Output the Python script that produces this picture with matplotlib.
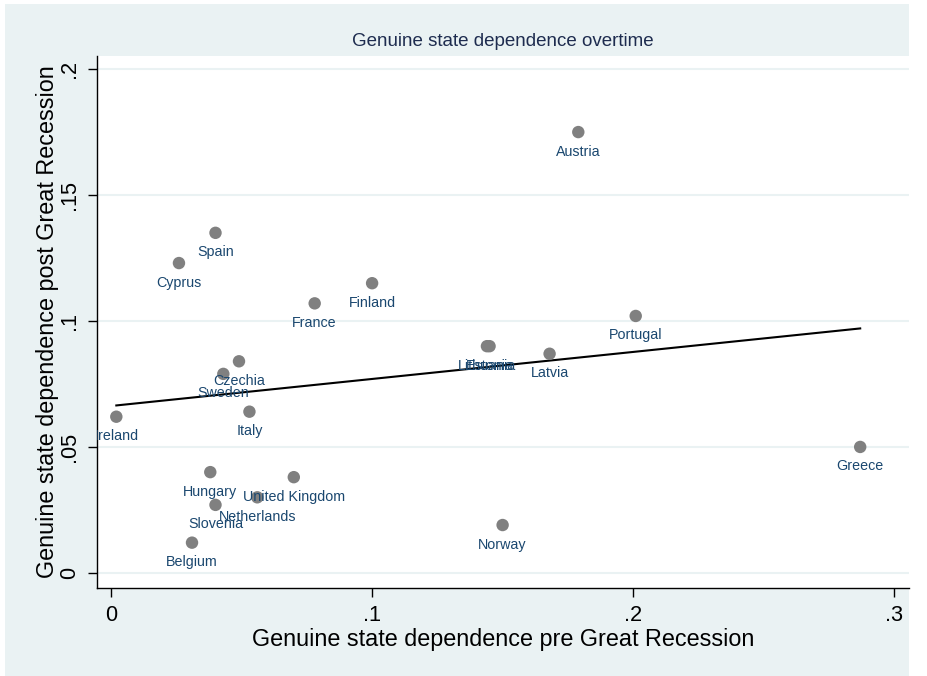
import numpy as np
import matplotlib
matplotlib.use("Agg")
import matplotlib.pyplot as plt
from matplotlib.patches import Rectangle

plt.rcParams['font.family'] = ['Liberation Sans', 'DejaVu Sans']

countries = ['Austria', 'Spain', 'Cyprus', 'Finland', 'France', 'Portugal',
             'Lithuania', 'Estonia', 'Latvia', 'Czechia', 'Sweden', 'Italy',
             'Ireland', 'Greece', 'Hungary', 'United Kingdom', 'Netherlands',
             'Slovenia', 'Norway', 'Belgium']
pre = [0.179, 0.040, 0.026, 0.100, 0.078, 0.201,
       0.144, 0.145, 0.168, 0.049, 0.043, 0.053,
       0.002, 0.287, 0.038, 0.070, 0.056,
       0.040, 0.150, 0.031]
post = [0.175, 0.135, 0.123, 0.115, 0.107, 0.102,
        0.090, 0.090, 0.087, 0.084, 0.079, 0.064,
        0.062, 0.050, 0.040, 0.038, 0.030,
        0.027, 0.019, 0.012]

xticks = [0, 0.1, 0.2, 0.3]
xticklabels = ['0', '.1', '.2', '.3']
yticks = [0, 0.05, 0.1, 0.15, 0.2]
yticklabels = ['0', '.05', '.1', '.15', '.2']

bg = '#eaf2f3'
label_col = '#1a476f'

fig = plt.figure(figsize=(9.27, 6.76), dpi=100)
fig.patch.set_facecolor('white')
fig.patches.append(Rectangle((5 / 927, 0), 904 / 927, 672 / 676,
                             transform=fig.transFigure, facecolor=bg,
                             edgecolor='none', zorder=-10))

ax = fig.add_axes([97 / 927, 1 - 588 / 676, 812 / 927, 532 / 676])
ax.set_facecolor('white')
for s in ['top', 'right']:
    ax.spines[s].set_visible(False)
for s in ['left', 'bottom']:
    ax.spines[s].set_color('black')
    ax.spines[s].set_linewidth(1.0)

x = np.array(pre)
y = np.array(post)

ax.set_xlim(-0.0054, 0.3057)
ax.set_ylim(-0.006, 0.2052)
ax.set_yticks(yticks)
ax.set_yticklabels(yticklabels, rotation=90, va='center')
ax.set_xticks(xticks)
ax.set_xticklabels(xticklabels)
ax.tick_params(axis='both', labelsize=15.7, length=6.5, width=1,
               color='black', pad=6)
ax.grid(axis='y', color=bg, linewidth=1.5)
ax.set_axisbelow(True)

ax.scatter(x, y, s=80, color='#808080', edgecolors='none', zorder=3)
for name, xi, yi in zip(countries, x, y):
    ax.annotate(name, (xi, yi), xytext=(0, -9), textcoords='offset points',
                ha='center', va='top', fontsize=10.3, color=label_col,
                clip_on=True, zorder=4)

slope, intercept = np.polyfit(x, y, 1)
xs = np.array([x.min(), x.max()])
ax.plot(xs, intercept + slope * xs, color='black', linewidth=1.5, zorder=2)

ax.set_xlabel('Genuine state dependence pre Great Recession', fontsize=16.8,
              labelpad=1.5)
ax.set_ylabel('Genuine state dependence post Great Recession', fontsize=16.8,
              labelpad=0)
ax.set_title('Genuine state dependence overtime', fontsize=13.5,
             color='#1e2c4f', pad=7)

fig.savefig('out.png', dpi=100, facecolor=fig.get_facecolor())
